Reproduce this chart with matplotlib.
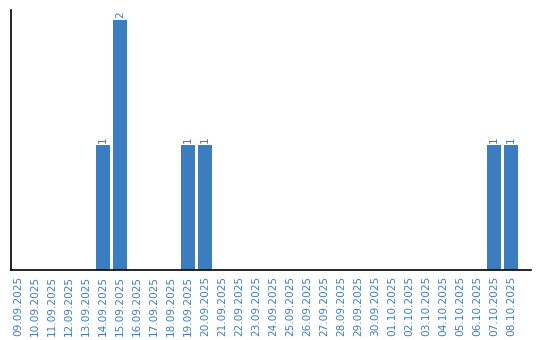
import matplotlib
matplotlib.use("Agg")
import matplotlib.pyplot as plt

dates = ["09.09.2025", "10.09.2025", "11.09.2025", "12.09.2025", "13.09.2025",
         "14.09.2025", "15.09.2025", "16.09.2025", "17.09.2025", "18.09.2025",
         "19.09.2025", "20.09.2025", "21.09.2025", "22.09.2025", "23.09.2025",
         "24.09.2025", "25.09.2025", "26.09.2025", "27.09.2025", "28.09.2025",
         "29.09.2025", "30.09.2025", "01.10.2025", "02.10.2025", "03.10.2025",
         "04.10.2025", "05.10.2025", "06.10.2025", "07.10.2025", "08.10.2025"]
counts = [0, 0, 0, 0, 0, 1, 2, 0, 0, 0,
          1, 1, 0, 0, 0, 0, 0, 0, 0, 0,
          0, 0, 0, 0, 0, 0, 0, 0, 1, 1]

color = "#3a7ec1"
fig = plt.figure(figsize=(5.4, 3.4), dpi=100)
ax = fig.add_axes([11/540, 1 - 270/340, 520/540, 260/340])

x = list(range(len(dates)))
bars = ax.bar(x, counts, width=0.82, color=color)
for xi, v in zip(x, counts):
    if v > 0:
        ax.annotate(str(v), (xi, v), xytext=(0, 1.5), textcoords="offset points",
                    rotation=90, ha="center", va="bottom",
                    color=color, fontsize=7.6, family="DejaVu Sans")

ax.set_xlim(-0.41, 30.18)
ax.set_ylim(0, 2.08)
ax.set_xticks(x)
ax.set_xticklabels(dates, rotation=90, color=color, fontsize=7.6, family="DejaVu Sans")
ax.tick_params(axis="x", length=0, pad=4)
ax.set_yticks([])
for s in ["top", "right"]:
    ax.spines[s].set_visible(False)
ax.spines["left"].set_linewidth(1.2)
ax.spines["bottom"].set_linewidth(1.2)

fig.savefig("out.png", dpi=100)
